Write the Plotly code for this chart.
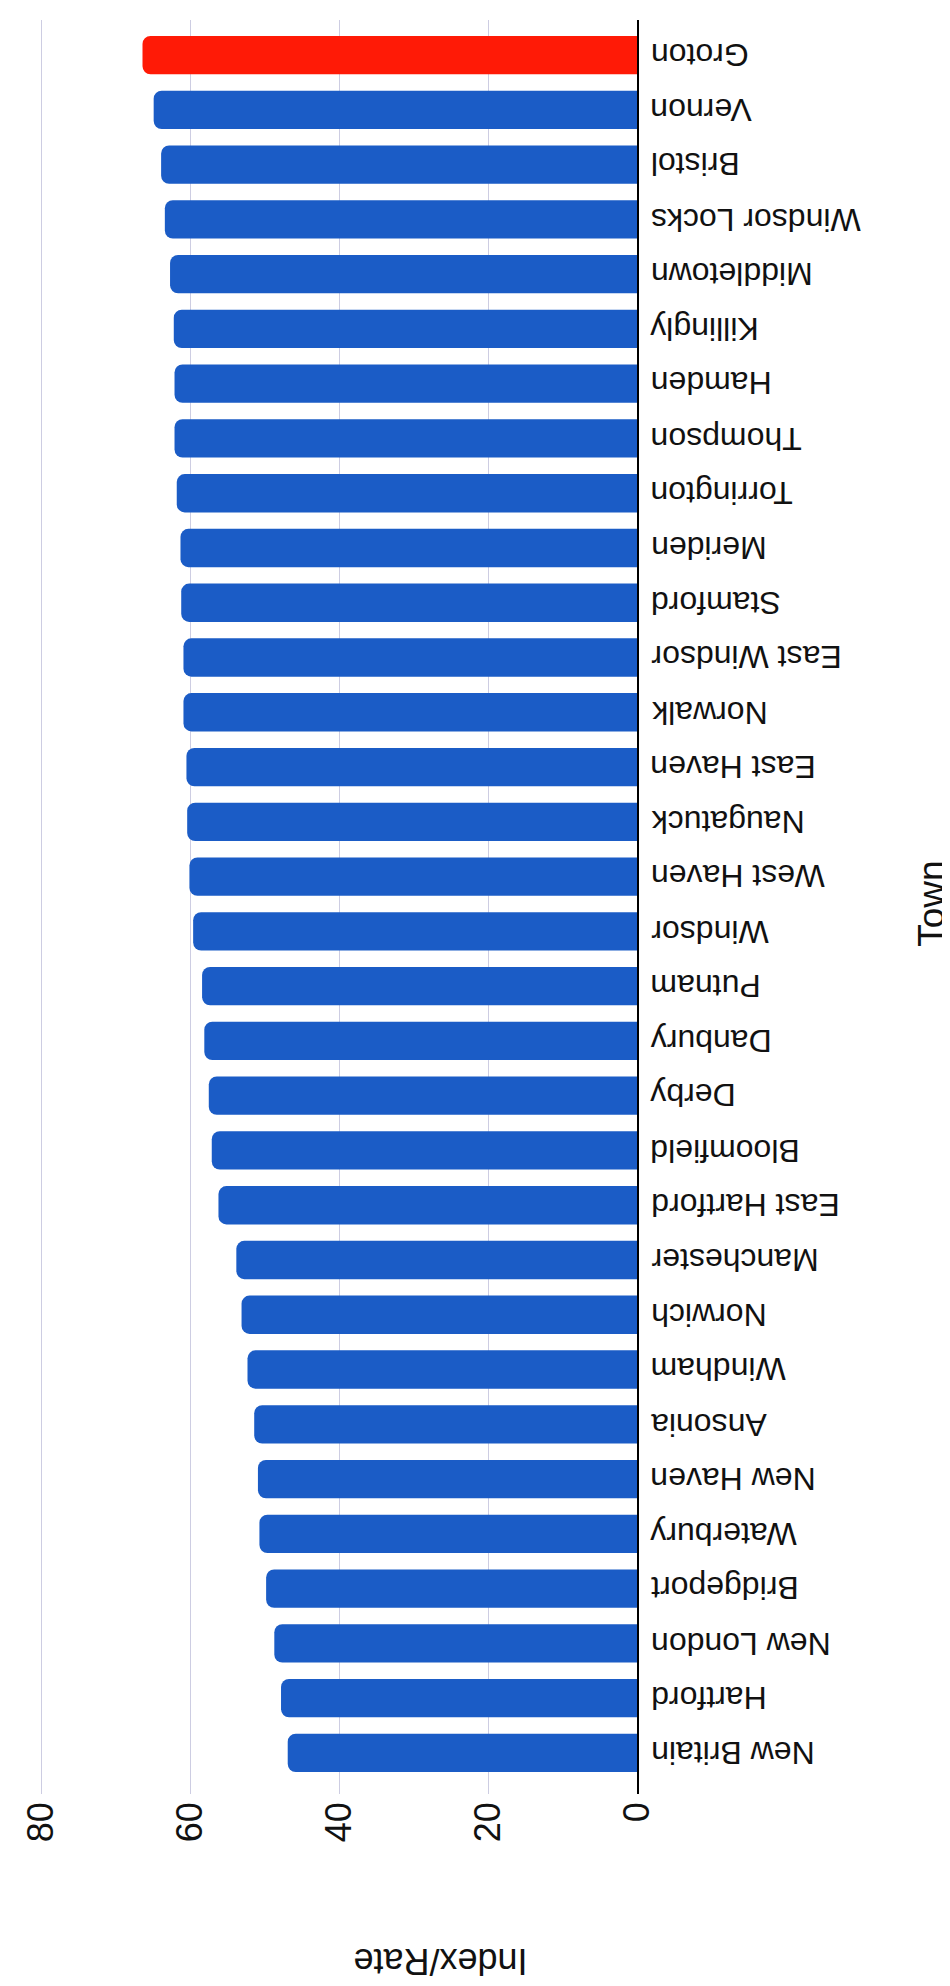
import plotly.graph_objects as go

# towns listed bottom -> top (New Britain at the bottom, Groton at the top)
towns = [
    "New Britain", "Hartford", "New London", "Bridgeport", "Waterbury",
    "New Haven", "Ansonia", "Windham", "Norwich", "Manchester",
    "East Hartford", "Bloomfield", "Derby", "Danbury", "Putnam",
    "Windsor", "West Haven", "Naugatuck", "East Haven", "Norwalk",
    "East Windsor", "Stamford", "Meriden", "Torrington", "Thompson",
    "Hamden", "Killingly", "Middletown", "Windsor Locks", "Bristol",
    "Vernon", "Groton",
]
values = [
    46.9, 47.8, 48.7, 49.8, 50.7,
    50.9, 51.4, 52.3, 53.1, 53.8,
    56.2, 57.1, 57.5, 58.1, 58.4,
    59.6, 60.1, 60.4, 60.5, 60.9,
    60.9, 61.2, 61.3, 61.8, 62.1,
    62.1, 62.2, 62.7, 63.4, 63.9,
    64.9, 66.4,
]
highlight = "Groton"
x_ticks = [0, 20, 40, 60, 80]

BLUE = "#1b5cc6"
RED = "#ff1a06"
colors = [RED if t == highlight else BLUE for t in towns]

FONT = "Liberation Sans, Arial, sans-serif"

W, H = 950, 1986
ML, MR, MT, MB = 21, 321, 12, 200
pw = W - ML - MR
ph = H - MT - MB

fig = go.Figure(go.Bar(
    x=values,
    y=towns,
    orientation="h",
    marker=dict(color=colors, line=dict(width=0)),
    width=0.7,
))

fig.update_layout(
    width=W,
    height=H,
    margin=dict(l=ML, r=MR, t=MT, b=MB),
    paper_bgcolor="white",
    plot_bgcolor="white",
    showlegend=False,
    barcornerradius=8,
    font=dict(family=FONT, color="#111111"),
)

fig.update_xaxes(
    range=[80.7, 0],
    tickvals=x_ticks,
    ticktext=[str(v) for v in x_ticks],
    tickangle=-90,
    tickfont=dict(size=36, family=FONT),
    showgrid=True,
    gridcolor="#cdcde2",
    gridwidth=1,
    zeroline=False,
    showline=False,
    ticks="",
)

fig.update_yaxes(
    type="category",
    categoryorder="array",
    categoryarray=towns,
    range=[-0.75, 31.64],
    side="right",
    showticklabels=False,
    showline=True,
    linecolor="black",
    linewidth=2,
    showgrid=False,
    ticks="",
)

# upside-down town labels just right of the baseline
for t in towns:
    fig.add_annotation(
        text=t, x=1 + 12 / pw, y=t, xref="paper", yref="y",
        xanchor="left", yanchor="middle", showarrow=False, textangle=180,
        font=dict(size=32, family=FONT),
    )

fig.add_annotation(
    text="Index/Rate",
    x=(430 - ML) / pw, y=(H - MB - 1954) / ph,
    xref="paper", yref="paper", xanchor="center", yanchor="middle",
    showarrow=False, textangle=180,
    font=dict(size=36, family=FONT),
)
fig.add_annotation(
    text="Town",
    x=(949 - ML) / pw, y=(H - MB - 896) / ph,
    xref="paper", yref="paper", xanchor="right", yanchor="middle",
    showarrow=False, textangle=-90,
    font=dict(size=37, family=FONT),
)

fig.write_html("out.html")
